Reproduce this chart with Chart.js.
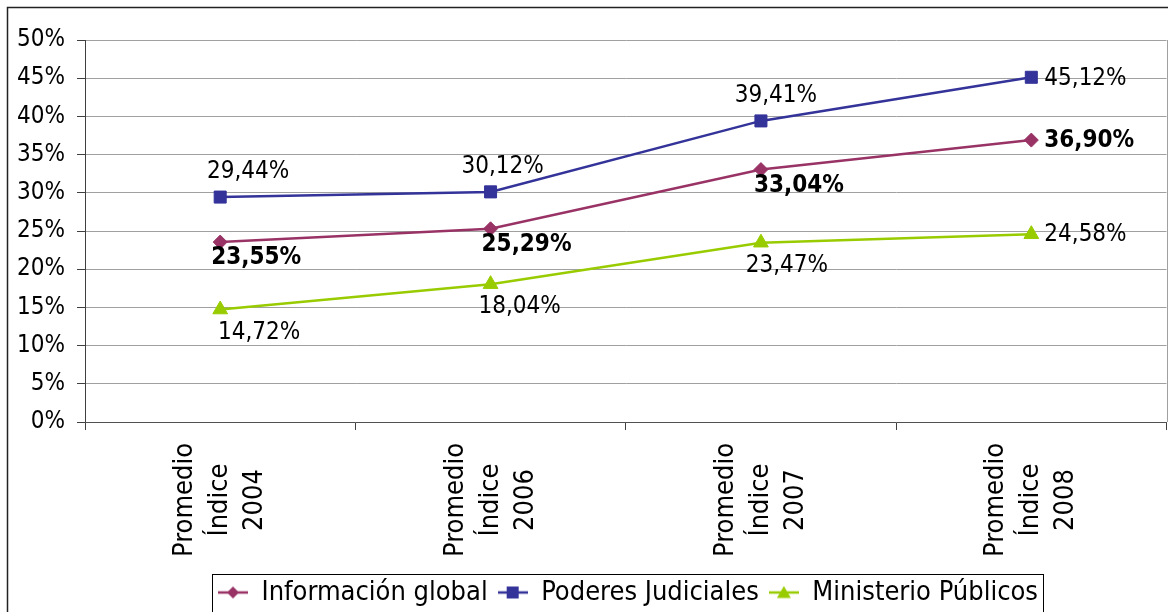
<!DOCTYPE html>
<html>
<head>
<meta charset="utf-8">
<script src="https://cdn.jsdelivr.net/npm/chart.js@4"></script>
<style>
  html, body { margin: 0; padding: 0; background: #fff; }
</style>
</head>
<body>
<canvas id="grafico" width="1176" height="612"></canvas>
<script>
// Datos
const categorias = [
    ['Promedio', 'Índice', '2004'],
    ['Promedio', 'Índice', '2006'],
    ['Promedio', 'Índice', '2007'],
    ['Promedio', 'Índice', '2008']
];
const informacionGlobal = [23.55, 25.29, 33.04, 36.90];
const poderesJudiciales = [29.44, 30.12, 39.41, 45.12];
const ministerioPublicos = [14.72, 18.04, 23.47, 24.58];
const ejeYMin = 0;
const ejeYMax = 50;
const ejeYPaso = 5;

const FUENTE = '"DejaVu Sans Condensed", "DejaVu Sans", sans-serif';

// Dónde va cada etiqueta de valor (mismo orden que los datasets)
const ubicacion = [
    { negrita: true,  dx: [36, 36, 38], dy: 16,  lado: ['abajo', 'abajo', 'abajo', 'derecha'] },
    { negrita: false, dx: [28, 12, 15], dy: -25, lado: ['arriba', 'arriba', 'arriba', 'derecha'] },
    { negrita: false, dx: [39, 29, 26], dy: 23,  lado: ['abajo', 'abajo', 'abajo', 'derecha'] }
];

function formato(v) {
    return v.toFixed(2).replace('.', ',') + '%';
}

// Icono de leyenda: línea con el marcador encima
function iconoLeyenda(color, estilo) {
    const c = document.createElement('canvas');
    c.width = 30;
    c.height = 16;
    const g = c.getContext('2d');
    g.strokeStyle = color;
    g.lineWidth = 2.5;
    g.beginPath();
    g.moveTo(0, 8);
    g.lineTo(30, 8);
    g.stroke();
    g.fillStyle = color;
    g.beginPath();
    if (estilo === 'rectRot') {
        g.moveTo(15, 2); g.lineTo(21, 8); g.lineTo(15, 14); g.lineTo(9, 8);
    } else if (estilo === 'rect') {
        g.rect(9, 2, 12, 12);
    } else {
        g.moveTo(15, 1.5); g.lineTo(22, 13.5); g.lineTo(8, 13.5);
    }
    g.closePath();
    g.fill();
    return c;
}

const iconos = [
    iconoLeyenda('#993366', 'rectRot'),
    iconoLeyenda('#333399', 'rect'),
    iconoLeyenda('#99CC00', 'triangle')
];

// Etiquetas de valor junto a cada punto
const etiquetas = {
    id: 'etiquetas',
    afterDatasetsDraw(chart) {
        const ctx = chart.ctx;
        chart.data.datasets.forEach((ds, i) => {
            const meta = chart.getDatasetMeta(i);
            const pos = ubicacion[i];
            ctx.save();
            ctx.font = (pos.negrita ? 'bold ' : '') + '24px ' + FUENTE;
            ctx.fillStyle = '#000';
            ctx.textBaseline = 'middle';
            meta.data.forEach((p, j) => {
                const texto = formato(ds.data[j]);
                if (pos.lado[j] === 'derecha') {
                    ctx.textAlign = 'left';
                    ctx.fillText(texto, p.x + 13, p.y + 1);
                } else {
                    ctx.textAlign = 'center';
                    ctx.fillText(texto, p.x + pos.dx[j], p.y + pos.dy);
                }
            });
            ctx.restore();
        });
    }
};

// Rótulos de categoría girados, con las líneas centradas
const rotulosX = {
    id: 'rotulosX',
    afterDraw(chart) {
        const x = chart.scales.x;
        const ctx = chart.ctx;
        ctx.save();
        ctx.font = '27px ' + FUENTE;
        ctx.fillStyle = '#000';
        ctx.textAlign = 'center';
        ctx.textBaseline = 'middle';
        chart.data.labels.forEach((lineas, i) => {
            const px = x.getPixelForValue(i);
            ctx.save();
            ctx.translate(px, x.top + 78);
            ctx.rotate(-Math.PI / 2);
            lineas.forEach((l, k) => {
                ctx.fillText(l, 0, (k - (lineas.length - 1) / 2) * 35);
            });
            ctx.restore();
        });
        ctx.restore();
    }
};

// Fondo, marco exterior, borde derecho del área y caja de la leyenda
const marcos = {
    id: 'marcos',
    afterLayout(chart) {
        // la leyenda del original está algo desplazada a la derecha
        chart.legend.left += 86;
    },
    beforeDraw(chart) {
        const ctx = chart.ctx;
        ctx.save();
        ctx.fillStyle = '#fff';
        ctx.fillRect(0, 0, chart.width, chart.height);
        ctx.restore();
    },
    afterDraw(chart) {
        const ctx = chart.ctx;
        const a = chart.chartArea;
        ctx.save();
        ctx.strokeStyle = '#222';
        ctx.lineWidth = 1.5;
        ctx.beginPath();
        ctx.moveTo(7.5, chart.height);
        ctx.lineTo(7.5, 7.5);
        ctx.lineTo(1168, 7.5);
        ctx.stroke();

        ctx.strokeStyle = '#a0a0a0';
        ctx.lineWidth = 1;
        ctx.beginPath();
        ctx.moveTo(Math.round(a.right) + 0.5, a.top);
        ctx.lineTo(Math.round(a.right) + 0.5, a.bottom);
        ctx.stroke();

        const hb = chart.legend.legendHitBoxes;
        if (hb && hb.length) {
            const ultimo = hb[hb.length - 1];
            const izq = Math.round(hb[0].left - 6) + 0.5;
            const der = Math.round(ultimo.left + ultimo.width + 5) + 0.5;
            const centro = hb[0].top + hb[0].height / 2;
            const arriba = Math.round(centro - 19) + 0.5;
            const abajo = Math.round(centro + 19) + 0.5;
            ctx.strokeStyle = '#000';
            ctx.lineWidth = 1;
            ctx.strokeRect(izq, arriba, der - izq, abajo - arriba);
        }
        ctx.restore();
    }
};

new Chart(document.getElementById('grafico'), {
    type: 'line',
    data: {
        labels: categorias,
        datasets: [{
            label: 'Información global',
            data: informacionGlobal,
            borderColor: '#993366',
            backgroundColor: '#993366',
            borderWidth: 2.5,
            pointStyle: 'rectRot',
            pointRadius: 7,
            pointHoverRadius: 7,
            pointBorderWidth: 1,
            tension: 0
        }, {
            label: 'Poderes Judiciales',
            data: poderesJudiciales,
            borderColor: '#333399',
            backgroundColor: '#333399',
            borderWidth: 2.5,
            pointStyle: 'rect',
            pointRadius: 8.5,
            pointHoverRadius: 8.5,
            pointBorderWidth: 1,
            tension: 0
        }, {
            label: 'Ministerio Públicos',
            data: ministerioPublicos,
            borderColor: '#99CC00',
            backgroundColor: '#99CC00',
            borderWidth: 2.5,
            pointStyle: 'triangle',
            pointRadius: 8.5,
            pointHoverRadius: 8.5,
            pointBorderWidth: 1,
            tension: 0
        }]
    },
    options: {
        responsive: false,
        animation: false,
        events: [],
        layout: {
            padding: { top: 40, right: 6, left: 0, bottom: -4 }
        },
        plugins: {
            tooltip: { enabled: false },
            legend: {
                position: 'bottom',
                labels: {
                    usePointStyle: true,
                    pointStyleWidth: 30,
                    color: '#000',
                    padding: 10,
                    font: { family: FUENTE, size: 27 },
                    generateLabels(chart) {
                        const items = Chart.defaults.plugins.legend.labels.generateLabels(chart);
                        items.forEach((it, i) => { it.pointStyle = iconos[i]; });
                        return items;
                    }
                }
            }
        },
        scales: {
            y: {
                min: ejeYMin,
                max: ejeYMax,
                ticks: {
                    stepSize: ejeYPaso,
                    callback: v => v + '%',
                    color: '#000',
                    padding: 12,
                    font: { family: FUENTE, size: 24 }
                },
                grid: { color: '#a0a0a0', tickColor: '#404040', tickLength: 8 },
                border: { color: '#404040', width: 1 },
                afterFit(s) { s.width = 85; }
            },
            x: {
                offset: true,
                ticks: { display: false },
                grid: { offset: true, drawOnChartArea: false, color: '#404040', tickLength: 8 },
                border: { color: '#505050', width: 1 },
                afterFit(s) { s.height = 147; }
            }
        }
    },
    plugins: [marcos, etiquetas, rotulosX]
});
</script>
</body>
</html>
